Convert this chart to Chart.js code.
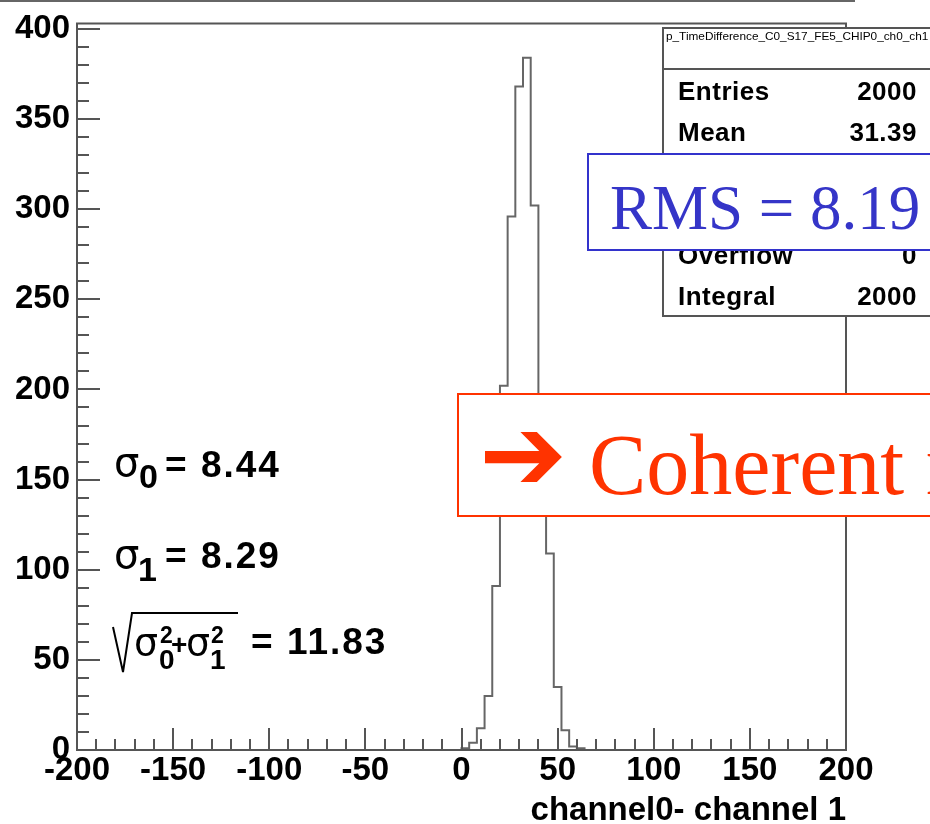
<!DOCTYPE html>
<html>
<head>
<meta charset="utf-8">
<script src="https://cdn.jsdelivr.net/npm/chart.js@4.4.1/dist/chart.umd.min.js"></script>
<style>
  html, body { margin: 0; padding: 0; background: #fff; }
  #wrap { position: relative; width: 930px; height: 824px; overflow: hidden; }
  #c { position: absolute; left: 0; top: 0; }
  .t { position: absolute; line-height: 1; white-space: nowrap; color: #000; }
  .b { font-family: "Liberation Sans", Arial, sans-serif; font-weight: bold; }
  .g { font-family: "DejaVu Sans", sans-serif; font-weight: normal; }
  #topline { position: absolute; left: 0; top: 0; width: 855px; height: 2px; background: #666; }

  #stats { position: absolute; left: 662px; top: 27px; width: 320px; height: 286px;
           border: 2px solid #555; background: #fff; }
  #stats .head { position: absolute; left: 0; top: 0; width: 100%; height: 39px;
                 border-bottom: 2px solid #555; line-height: 40px; padding-left: 2px;
                 font: 11.8px "Liberation Sans", Arial, sans-serif; }
  #stats .row { position: absolute; left: 14px; width: 239px; display: flex;
                justify-content: space-between; line-height: 1; letter-spacing: 0.5px;
                font: bold 26px "Liberation Sans", Arial, sans-serif; }

  #rms { position: absolute; left: 587px; top: 153px; width: 400px; height: 94px;
         border: 2px solid #3333cc; background: #fff; }
  #rms span { position: absolute; left: 21px; top: 17px; line-height: 1; white-space: nowrap;
              font: 63px "Liberation Serif", "Times New Roman", serif; color: #3535c8; }

  #coh { position: absolute; left: 457px; top: 393px; width: 520px; height: 120px;
         border: 2px solid #ff3300; background: #fff; }
  #coh .arrow { position: absolute; left: 20px; top: -2px; line-height: 1;
                font: 105px "DejaVu Sans", sans-serif; color: #ff3300; }
  #coh .txt { position: absolute; left: 130px; top: 20px; line-height: 1; white-space: nowrap;
              font: 86px "Liberation Serif", "Times New Roman", serif; color: #ff3300; }
</style>
</head>
<body>
<div id="wrap">
  <canvas id="c" width="930" height="824"></canvas>
  <div id="topline"></div>

  <!-- sigma annotations -->
  <span class="t g" style="left:114px; top:442px; font-size:40px;">σ</span>
  <span class="t b" style="left:139px; top:459px; font-size:34px;">0</span>
  <span class="t b" style="left:165px; top:446px; font-size:37px; letter-spacing:2px;">= 8.44</span>

  <span class="t g" style="left:114px; top:534px; font-size:40px;">σ</span>
  <span class="t b" style="left:138px; top:552px; font-size:34px;">1</span>
  <span class="t b" style="left:165px; top:537px; font-size:37px; letter-spacing:2px;">= 8.29</span>

  <svg style="position:absolute; left:0; top:0;" width="300" height="700">
    <polyline points="113,627 123,672 132,613 238,613" fill="none" stroke="#000" stroke-width="2"/>
  </svg>
  <span class="t g" style="left:134px; top:623px; font-size:38px;">σ</span>
  <span class="t b" style="left:160px; top:624px; font-size:23px;">2</span>
  <span class="t b" style="left:159px; top:646px; font-size:28px;">0</span>
  <span class="t b" style="left:171px; top:631px; font-size:28px;">+</span>
  <span class="t g" style="left:186px; top:623px; font-size:38px;">σ</span>
  <span class="t b" style="left:211px; top:624px; font-size:23px;">2</span>
  <span class="t b" style="left:210px; top:646px; font-size:28px;">1</span>
  <span class="t b" style="left:251px; top:623px; font-size:37px; letter-spacing:2px;">= 11.83</span>

  <div id="stats">
    <div class="head">p_TimeDifference_C0_S17_FE5_CHIP0_ch0_ch1</div>
    <div class="row" style="top:47px;"><span>Entries</span><span>2000</span></div>
    <div class="row" style="top:88px;"><span>Mean</span><span>31.39</span></div>
    <div class="row" style="top:129px;"><span>RMS</span><span>8.19</span></div>
    <div class="row" style="top:170px;"><span>Underflow</span><span>0</span></div>
    <div class="row" style="top:211px;"><span>Overflow</span><span>0</span></div>
    <div class="row" style="top:252px;"><span>Integral</span><span>2000</span></div>
  </div>

  <div id="rms"><span>RMS = 8.19</span></div>

  <div id="coh"><span class="arrow">➔</span><span class="txt">Coherent noise</span></div>
</div>

<script>
// histogram: 4-unit bins, only the non-empty ones starting at 0
const binStart = 0;
const binWidth = 4;
const counts = [1, 4, 12, 30, 91, 202, 296, 368, 384, 302, 152, 109, 35, 11, 2, 1];

const xRange = [-200, 200];
const yMax = 403;
const xTickLabels = [-200, -150, -100, -50, 0, 50, 100, 150, 200];
const yTickLabels = [0, 50, 100, 150, 200, 250, 300, 350, 400];

// step outline: left edge of each bin carries its count
const points = [{ x: xRange[0], y: 0 }];
counts.forEach((c, i) => points.push({ x: binStart + i * binWidth, y: c }));
points.push({ x: binStart + counts.length * binWidth, y: 0 });
points.push({ x: xRange[1], y: 0 });

const labelFont = { family: "Liberation Sans", size: 33, weight: "bold", lineHeight: 1 };

// ROOT style frame with ticks pointing inward
const rootFrame = {
  id: "rootFrame",
  afterDatasetsDraw(chart) {
    const { ctx, chartArea: a, scales } = chart;
    ctx.save();
    ctx.strokeStyle = "#555";
    ctx.lineWidth = 2;
    ctx.strokeRect(a.left, a.top, a.right - a.left, a.bottom - a.top);
    ctx.beginPath();
    for (let v = xRange[0]; v <= xRange[1]; v += 10) {
      const px = Math.round(scales.x.getPixelForValue(v));
      const len = v % 50 === 0 ? 22 : 11;
      ctx.moveTo(px, a.bottom);
      ctx.lineTo(px, a.bottom - len);
    }
    for (let v = 0; v <= 400; v += 10) {
      const py = Math.round(scales.y.getPixelForValue(v));
      const len = v % 50 === 0 ? 23 : 12;
      ctx.moveTo(a.left, py);
      ctx.lineTo(a.left + len, py);
    }
    ctx.stroke();
    ctx.restore();
  }
};

new Chart(document.getElementById("c"), {
  type: "line",
  data: {
    datasets: [{
      data: points,
      stepped: true,
      borderColor: "#666",
      borderWidth: 2,
      pointRadius: 0,
      fill: false
    }]
  },
  options: {
    responsive: false,
    animation: false,
    devicePixelRatio: 1,
    layout: { padding: { top: 18, right: 84, left: 0, bottom: 0 } },
    plugins: { legend: { display: false }, tooltip: { enabled: false } },
    scales: {
      x: {
        type: "linear",
        min: xRange[0],
        max: xRange[1],
        afterFit(s) { s.height = 74; },
        afterBuildTicks(s) { s.ticks = xTickLabels.map(v => ({ value: v })); },
        grid: { display: false, drawTicks: false },
        border: { display: false },
        ticks: { autoSkip: false, maxRotation: 0, padding: 4, color: "#000", font: labelFont },
        title: {
          display: true,
          text: "channel0- channel 1",
          align: "end",
          color: "#000",
          font: { family: "Liberation Sans", size: 33, weight: "bold", lineHeight: 0.8 },
          padding: { top: 0, bottom: 0 }
        }
      },
      y: {
        min: 0,
        max: yMax,
        afterFit(s) { s.width = 77; },
        afterBuildTicks(s) { s.ticks = yTickLabels.map(v => ({ value: v })); },
        grid: { display: false, drawTicks: false },
        border: { display: false },
        ticks: { padding: 7, color: "#000", font: labelFont }
      }
    }
  },
  plugins: [rootFrame]
});
</script>
</body>
</html>
